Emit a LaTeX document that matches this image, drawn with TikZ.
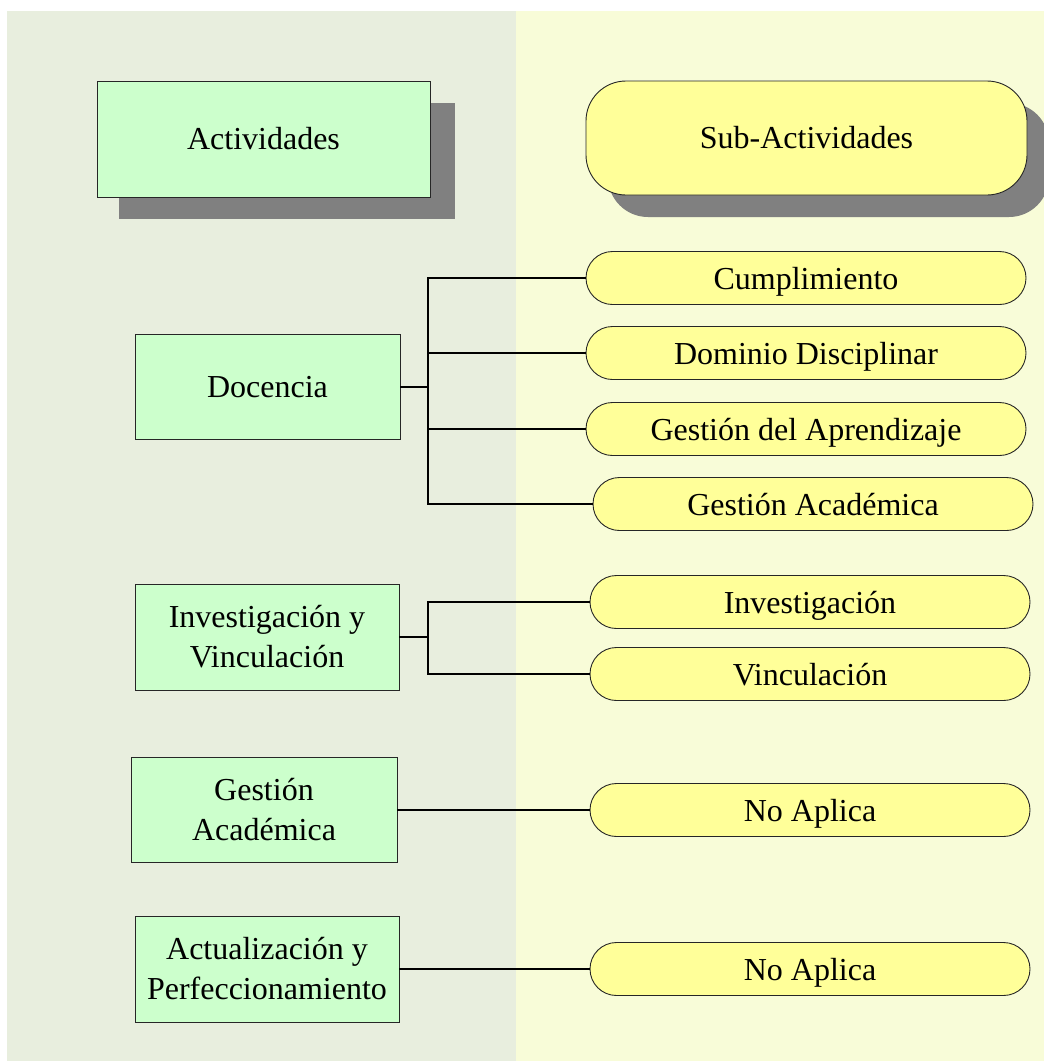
\documentclass[tikz,border=0pt]{standalone}
\usepackage{fontspec}
\setmainfont{Liberation Serif}
\definecolor{leftbg}{HTML}{E8EEDE}
\definecolor{rightbg}{HTML}{F8FCD8}
\definecolor{boxgreen}{HTML}{CCFFCC}
\definecolor{pillyellow}{HTML}{FFFF99}
\definecolor{shadowgray}{HTML}{808080}
\begin{document}
\begin{tikzpicture}[x=1pt,y=-1pt,
  every node/.style={font=\fontsize{32}{40}\selectfont, inner sep=0pt, align=center},
  actbox/.style={draw=black!85, line width=0.9pt, fill=boxgreen, rectangle},
  pill/.style={draw=black!85, line width=0.9pt, fill=pillyellow, rectangle, rounded corners=26.5pt, minimum width=440pt, minimum height=53pt, text depth=0pt},
  link/.style={draw=black, line width=1.1pt}
]
\useasboundingbox (0,0) rectangle (1044,1061);
% panels
\fill[leftbg] (7,11) rectangle (516,1061);
\fill[rightbg] (516,11) rectangle (1044,1061);
% shadows
\fill[shadowgray] (119,103) rectangle (455,219);
\fill[shadowgray, rounded corners=40pt] (608,103) rectangle (1049,217);
% header nodes
\node[actbox, minimum width=333pt, minimum height=116pt] (act) at (263.5,139) {Actividades};
\node[draw=black!85, line width=0.9pt, fill=pillyellow, rounded corners=40pt, minimum width=441pt, minimum height=114pt] (sub) at (806.5,138) {Sub-Actividades};
% activities
\node[actbox, minimum width=265pt, minimum height=105pt] (doc) at (267.5,387) {Docencia};
\node[actbox, minimum width=264pt, minimum height=106pt] (inv) at (267,637) {Investigación y\\Vinculación};
\node[actbox, minimum width=266pt, minimum height=105pt] (ges) at (264,810) {Gestión\\Académica};
\node[actbox, minimum width=264pt, minimum height=106pt] (upd) at (267,969) {Actualización y\\Perfeccionamiento};
% sub-activities
\node[pill] (p1) at (806,278) {Cumplimiento};
\node[pill] (p2) at (806,353) {Dominio Disciplinar};
\node[pill] (p3) at (806,429) {Gestión del Aprendizaje};
\node[pill] (p4) at (813,504) {Gestión Académica};
\node[pill] (p5) at (810,602) {Investigación};
\node[pill] (p6) at (810,674) {Vinculación};
\node[pill] (p7) at (810,810) {No Aplica};
\node[pill] (p8) at (810,969) {No Aplica};
% junctions
\coordinate (j1) at (428,387);
\coordinate (j2) at (428,637);
% connectors
\draw[link] (doc.east) -- (j1);
\draw[link] (j1) |- (p1.west);
\draw[link] (j1) |- (p2.west);
\draw[link] (j1) |- (p3.west);
\draw[link] (j1) |- (p4.west);
\draw[link] (inv.east) -- (j2);
\draw[link] (j2) |- (p5.west);
\draw[link] (j2) |- (p6.west);
\draw[link] (ges.east) -- (p7.west);
\draw[link] (upd.east) -- (p8.west);
\end{tikzpicture}
\end{document}
